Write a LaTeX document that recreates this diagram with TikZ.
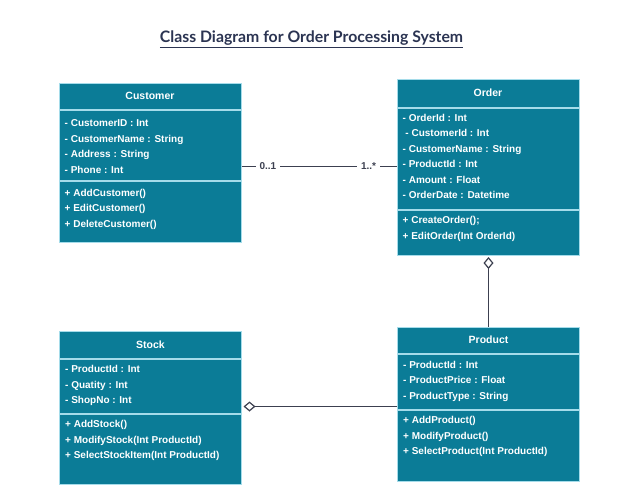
\documentclass[tikz,border=0pt]{standalone}
\usepackage{fontspec}
\setmainfont{Liberation Sans}
\newfontfamily\titlefont{Lato}
\usetikzlibrary{positioning, arrows.meta, calc}

\definecolor{classfill}{RGB}{11,124,151}
\definecolor{classedge}{RGB}{165,220,234}
\definecolor{linkgray}{RGB}{60,64,80}
\definecolor{titleblue}{RGB}{43,52,82}

\begin{document}
\begin{tikzpicture}[x=1pt, y=-1pt, node distance=0pt,
    font=\fontsize{10}{15.5}\selectfont\bfseries,
    classhead/.style={rectangle, draw=classedge, fill=classfill, line width=1pt, text=white, minimum width=182pt, minimum height=#1, font=\fontsize{10.5}{12}\selectfont\bfseries},
    classpart/.style={rectangle, draw=classedge, fill=classfill, line width=1pt, minimum width=182pt, minimum height=#1},
    members/.style={text=white, align=left, inner sep=0pt},
    link/.style={draw=linkgray, line width=1.3pt},
    aggr/.style={link, shorten >=1.5pt, -{Diamond[fill=white, length=12pt, width=10pt, line width=1.2pt]}},
    mult/.style={fill=white, text=linkgray, inner xsep=4pt, font=\fontsize{10}{11}\selectfont\bfseries}]
  \useasboundingbox (0,0) rectangle (638,499);

  \node [font=\titlefont\fontsize{15.8}{18}\selectfont\bfseries, text=titleblue] (title) at (311.5,39.5) {\underline{Class Diagram for Order Processing System}};

  % Customer
  \node [classhead=26pt] (cust) at (150,96) {Customer};
  \node [classpart=70pt, below=of cust] (custattr) {};
  \node [classpart=61pt, below=of custattr] (custops) {};
  \node [members, below right=10pt and 6pt of custattr.north west] (custattrtxt) {- CustomerID : Int\\- CustomerName : String\\- Address : String\\- Phone : Int};
  \node [members, below right=8.5pt and 6pt of custops.north west] (custopstxt) {+ AddCustomer()\\+ EditCustomer()\\+ DeleteCustomer()};

  % Order
  \node [classhead=28pt] (ord) at (488,93) {Order};
  \node [classpart=101pt, below=of ord] (ordattr) {};
  \node [classpart=45pt, below=of ordattr] (ordops) {};
  \node [members, below right=6.5pt and 6pt of ordattr.north west] (ordattrtxt) {- OrderId : Int\\\ - CustomerId : Int\\- CustomerName : String\\- ProductId : Int\\- Amount : Float\\- OrderDate : Datetime};
  \node [members, below right=7pt and 6pt of ordops.north west] (ordopstxt) {+ CreateOrder();\\+ EditOrder(Int OrderId)};

  % Stock
  \node [classhead=27pt] (stock) at (150.5,344.5) {Stock};
  \node [classpart=54pt, below=of stock] (stockattr) {};
  \node [classpart=70pt, below=of stockattr] (stockops) {};
  \node [members, below right=7pt and 6pt of stockattr.north west] (stockattrtxt) {- ProductId : Int\\- Quatity : Int\\- ShopNo : Int};
  \node [members, below right=7pt and 6pt of stockops.north west] (stockopstxt) {+ AddStock()\\+ ModifyStock(Int ProductId)\\+ SelectStockItem(Int ProductId)};

  % Product
  \node [classhead=26pt] (prod) at (488.5,340) {Product};
  \node [classpart=55pt, below=of prod] (prodattr) {};
  \node [classpart=71pt, below=of prodattr] (prodops) {};
  \node [members, below right=7.5pt and 6pt of prodattr.north west] (prodattrtxt) {- ProductId : Int\\- ProductPrice : Float\\- ProductType : String};
  \node [members, below right=7pt and 6pt of prodops.north west] (prodopstxt) {+ AddProduct()\\+ ModifyProduct()\\+ SelectProduct(Int ProductId)};

  % links
  \draw [link] ([yshift=14pt]custattr.south east) -- node [mult, pos=0.17] {0..1} node [mult, pos=0.82] {1..*} ([yshift=14pt]custattr.south east -| ordattr.west);
  \draw [aggr] (prod.north) -- (prod.north |- ordops.south);
  \draw [aggr] ([yshift=3pt]prodattr.south west) -- ([yshift=3pt]prodattr.south west -| stockattr.east);
\end{tikzpicture}
\end{document}
